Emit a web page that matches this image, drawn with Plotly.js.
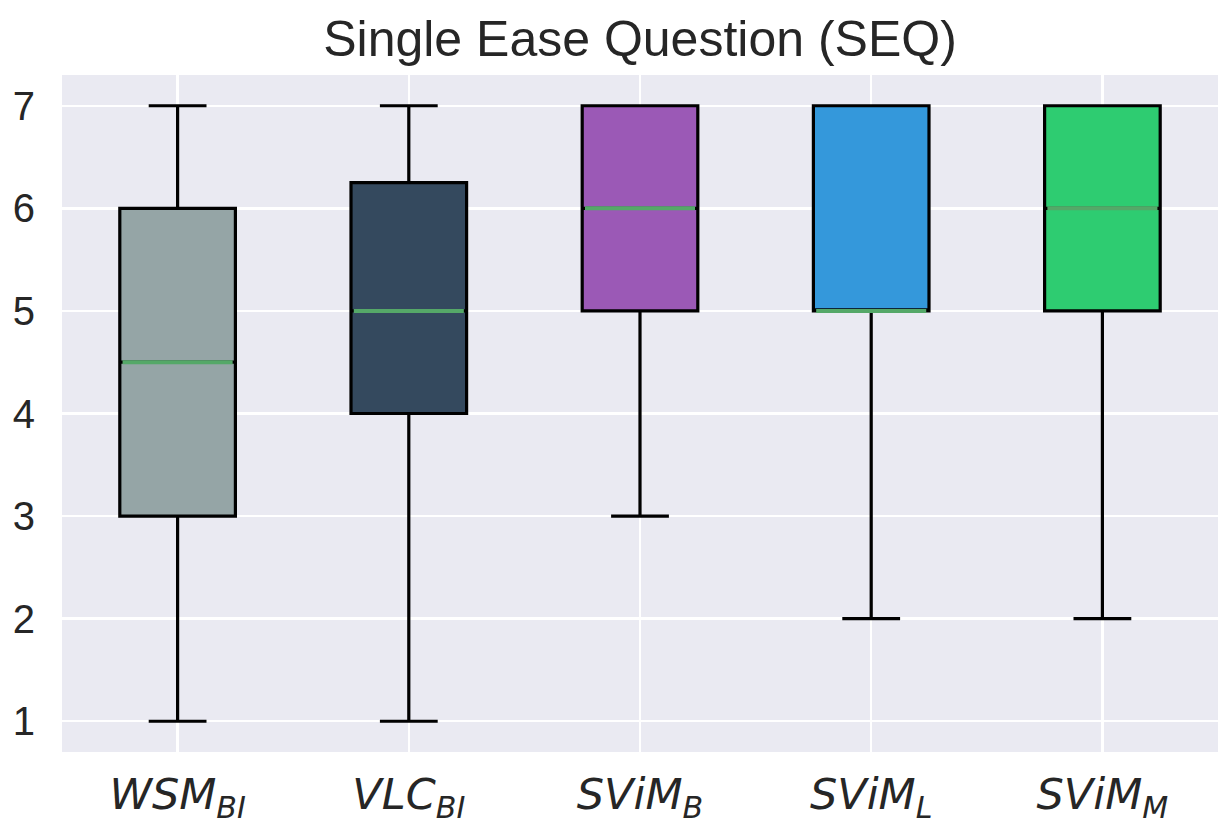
<!DOCTYPE html>
<html>
<head>
<meta charset="utf-8">
<script src="https://cdn.plot.ly/plotly-3.0.1.min.js"></script>
<style>html,body{margin:0;padding:0;background:#fff;}#chart{width:1225px;height:825px;}</style>
</head>
<body>
<div id="chart"></div>
<script>
const categories = ['WSM_BI', 'VLC_BI', 'SViM_B', 'SViM_L', 'SViM_M'];
const tickLabels = ['<i>WSM<sub>BI</sub></i>', '<i>VLC<sub>BI</sub></i>', '<i>SViM<sub>B</sub></i>', '<i>SViM<sub>L</sub></i>', '<i>SViM<sub>M</sub></i>'];
const lowerWhisker = [1, 1, 3, 2, 2];
const q1Values = [3, 4, 5, 5, 5];
const medianValues = [4.5, 5, 6, 5, 6];
const q3Values = [6, 6.25, 7, 7, 7];
const upperWhisker = [7, 7, 7, 7, 7];
const boxColors = ['#95a5a6', '#34495e', '#9b59b6', '#3498db', '#2ecc71'];
const title = 'Single Ease Question (SEQ)';
const boxWidth = 0.5;

const traces = categories.map((c, i) => ({
  type: 'box',
  x: [c],
  q1: [q1Values[i]],
  median: [medianValues[i]],
  q3: [q3Values[i]],
  lowerfence: [lowerWhisker[i]],
  upperfence: [upperWhisker[i]],
  fillcolor: boxColors[i],
  line: {color: '#000000', width: 3.2},
  width: boxWidth,
  whiskerwidth: 0.5,
  boxpoints: false,
  showlegend: false,
  hoverinfo: 'skip'
}));

// median lines (green, like matplotlib's medianprops) built from the data arrays
const medianShapes = medianValues.map((m, i) => ({
  type: 'line',
  xref: 'x', yref: 'y',
  x0: i - boxWidth / 2 + 0.012, x1: i + boxWidth / 2 - 0.012,
  y0: m, y1: m,
  line: {color: '#55a868', width: 4},
  layer: 'above'
}));

const layout = {
  width: 1225,
  height: 825,
  margin: {l: 62, r: 7, t: 75, b: 73},
  paper_bgcolor: '#ffffff',
  plot_bgcolor: '#eaeaf2',
  boxmode: 'overlay',
  shapes: medianShapes,
  title: {text: title, font: {family: 'Liberation Sans, Arial, sans-serif', size: 50, color: '#262626'}, xref: 'paper', x: 0.5, xanchor: 'center', y: 0.975, yanchor: 'top'},
  xaxis: {
    type: 'category',
    categoryarray: categories,
    tickvals: categories,
    ticktext: tickLabels,
    range: [-0.5, 4.5],
    showgrid: true,
    gridcolor: '#ffffff',
    gridwidth: 2.5,
    zeroline: false,
    showline: false,
    ticks: '',
    ticklabelstandoff: 13,
    tickfont: {family: 'DejaVu Sans', size: 43, color: '#262626'}
  },
  yaxis: {
    range: [0.7, 7.3],
    tickvals: [1, 2, 3, 4, 5, 6, 7],
    showgrid: true,
    gridcolor: '#ffffff',
    gridwidth: 2.5,
    zeroline: false,
    showline: false,
    ticks: '',
    ticklabelstandoff: 26,
    tickfont: {family: 'Liberation Sans, Arial, sans-serif', size: 40, color: '#262626'}
  }
};

Plotly.newPlot('chart', traces, layout, {displayModeBar: false, staticPlot: true});
</script>
</body>
</html>
